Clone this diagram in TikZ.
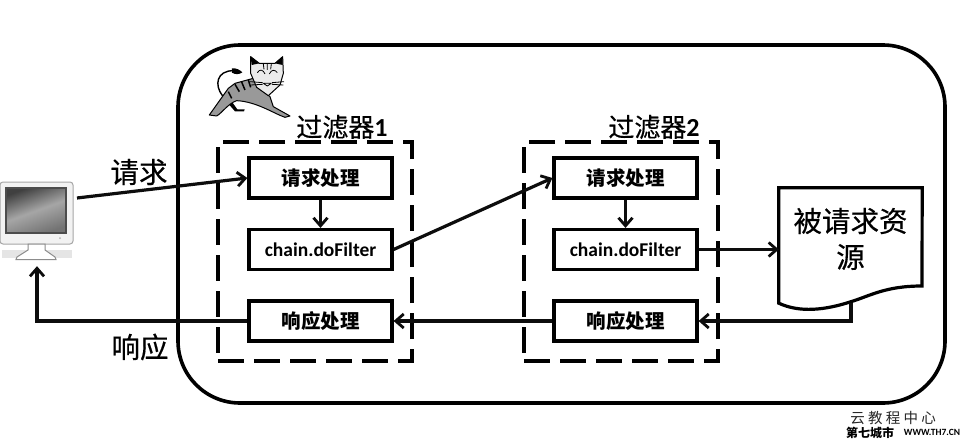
\documentclass[tikz,border=0pt]{standalone}
\usepackage{fontspec}
\setmainfont{Noto Sans CJK SC}
\newfontfamily\cjkheavy[FakeBold=0.5]{Noto Sans CJK SC}
\newfontfamily\latinbold{Carlito}[BoldFont=Carlito Bold]
\usetikzlibrary{arrows.meta,shadows,calc}
\tikzset{
  x=1pt,y=-1pt,
  conn/.style={line width=3.2pt,-{Straight Barb[length=8pt,width=14pt,line width=2.8pt]},black!95},
  procbox/.style={draw=black,line width=3.2pt,fill=white,minimum width=143pt,minimum height=40pt,inner sep=0pt,
    font=\fontsize{19.5}{21}\selectfont\bfseries,general shadow={fill=black,opacity=.22,shadow xshift=1.2pt,shadow yshift=-1.2pt}},
  filterzone/.style={draw=black,line width=3.2pt,dash pattern=on 26pt off 10pt,minimum width=194pt,minimum height=219pt,inner sep=0pt},
  bigtext/.style={inner sep=0pt,font=\cjkheavy\fontsize{28.5}{30}\selectfont},
  titletext/.style={inner sep=0pt,font=\cjkheavy\fontsize{26}{28}\selectfont},
  catline/.style={line width=1pt,draw=black,line join=round},
  markwater/.style={inner sep=0pt,font=\fontsize{14.5}{16}\selectfont,text=black!85}
}
\begin{document}
\begin{tikzpicture}
\useasboundingbox (0,0) rectangle (962,439);
\fill[white] (0,0) rectangle (962,439);
% container
\node[draw=black,line width=3.6pt,rounded corners=62pt,minimum width=767pt,minimum height=358pt,inner sep=0pt] (tomcat) at (561.5,224) {};
% watermark patch
\fill[white] (835,407) rectangle (962,439);
% filter zones
\node[filterzone] (zone1) at (315,251.5) {};
\node[filterzone] (zone2) at (621,251.5) {};
\node[titletext] (title1) at (342,127) {过滤器\latinbold\bfseries 1};
\node[titletext] (title2) at (654,127) {过滤器\latinbold\bfseries 2};
% boxes
\node[procbox] (req1) at (320.5,178) {请求处理};
\node[procbox,font=\latinbold\fontsize{19.5}{21}\selectfont\bfseries] (chain1) at (320.5,249.5) {chain.doFilter};
\node[procbox] (resp1) at (320.5,321) {响应处理};
\node[procbox] (req2) at (625.5,178) {请求处理};
\node[procbox,font=\latinbold\fontsize{19.5}{21}\selectfont\bfseries] (chain2) at (625.5,249.5) {chain.doFilter};
\node[procbox] (resp2) at (625.5,321) {响应处理};
% monitor
\node[minimum width=73pt,minimum height=85pt,inner sep=0pt] (monitor) at (36.5,223.5) {};
\fill[black!10] (2,250) rectangle (72,258);
\draw[black!35,line width=1pt,fill=black!5,rounded corners=3pt] (0,182) rectangle (73,244);
\draw[black!45,line width=1pt,fill=white] (28,244) -- (28,250) -- (17,257) -- (16,259.5) -- (56,259.5) -- (55,257) -- (45,250) -- (45,244) -- cycle;
\shade[left color=black!75,right color=black!55,middle color=black!35,shading angle=20,draw=black!70,line width=1.2pt]
  (6,188) rectangle (66,233);
\fill[black!30] (60,238) circle (1pt);
% document
\node[bigtext,minimum width=143pt,minimum height=115pt,align=center] (doc) at (850.5,245.5) {};
\draw[line width=3.2pt,fill=white,line join=miter] (doc.north west) -- (doc.north east) -- (922,286)
  .. controls (885,286) and (870,296) .. (850,302)
  .. controls (825,310) and (800,313) .. (doc.south west) -- cycle;
\node[bigtext] (doctext1) at (850.5,221) {被请求资};
\node[bigtext] (doctext2) at (850.5,257) {源};
% connectors
\coordinate (bend1) at (851,321);
\coordinate (bend2) at (37,321);
\coordinate (docout) at (851,303);
\coordinate (pcout) at (77,198);
\draw[conn] (pcout) -- (req1.west);
\draw[conn] (req1) -- (chain1);
\draw[conn] (chain1.east) -- (req2.west);
\draw[conn] (req2) -- (chain2);
\draw[conn] (chain2.east) -- (doc.west |- chain2);
\draw[conn] (docout) -- (bend1) -- (resp2.east);
\draw[conn] (resp2.west) -- (resp1.east);
\draw[conn] (resp1.west) -- (bend2) -- (monitor.south -| bend2);
% labels
\node[bigtext] (lblreq) at (139,172) {请求};
\node[bigtext] (lblresp) at (140,347) {响应};
% tomcat
\begin{scope}[shift={(200,50)},x=0.3333pt,y=-0.3333pt]
  \draw[line width=1.4pt,line cap=round] (68,138) .. controls (42,105) and (50,62) .. (100,62);
  \fill[black] (96,55) .. controls (110,54) and (120,60) .. (127,67) .. controls (118,74) and (105,74) .. (96,68) -- cycle;
  \fill[black] (92,150) -- (112,178) -- (134,178) -- (132,184) -- (105,184) -- (84,160) -- cycle;
  \draw[catline,fill=black!40] (28,195) -- (60,150) -- (85,115) -- (105,100) -- (160,85) -- (180,115) -- (210,140) -- (220,170) -- (270,198) -- (255,202)
     .. controls (220,190) and (170,155) .. (110,152) .. controls (85,160) and (65,190) .. (50,198) -- cycle;
  \draw[black,line width=1.5pt] (105,103) -- (118,125) (125,96) -- (135,120) (145,90) -- (152,112) (85,125) -- (95,145);
  \draw[catline,fill=black!8] (152,20) -- (178,40) -- (225,40) -- (248,20) -- (250,70) -- (240,105) -- (205,137) -- (170,112) -- (152,70) -- cycle;
  \fill[black] (152,20) -- (178,40) -- (155,45) -- cycle (248,20) -- (225,40) -- (248,45) -- cycle;
  \draw[black,line width=.8pt] (172,68) .. controls (180,55) and (190,60) .. (195,72) (208,72) .. controls (214,58) and (225,58) .. (232,68)
     (190,100) -- (202,108) -- (214,100) (190,100) -- (214,100)
     (150,95) -- (188,98) (152,105) -- (188,103) (216,98) -- (252,95) (216,103) -- (250,105)
     (190,42) -- (192,58) (202,42) -- (202,60) (214,42) -- (212,58);
\end{scope}
% watermark text
\node[markwater] (wm1) at (893,418) {云 教 程 中 心};
\node[inner sep=0pt,font=\fontsize{12}{13}\selectfont\bfseries] (wm2) at (870,432.5) {第七城市};
\node[inner sep=0pt,font=\latinbold\fontsize{9.5}{11}\selectfont\bfseries] (wm3) at (932,432.5) {WWW.TH7.CN};
\end{tikzpicture}
\end{document}
